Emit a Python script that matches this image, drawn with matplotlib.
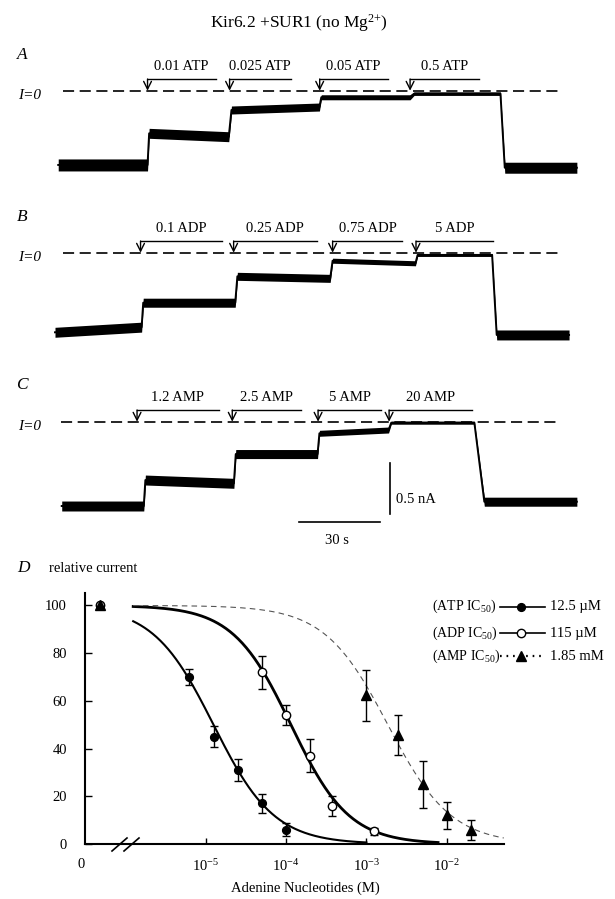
import numpy as np
import matplotlib
matplotlib.use('Agg')
import matplotlib.pyplot as plt
from matplotlib.lines import Line2D

plt.rcParams['font.family'] = ['Liberation Serif', 'DejaVu Serif']
plt.rcParams['mathtext.fontset'] = 'custom'
plt.rcParams['mathtext.rm'] = 'Liberation Serif'
plt.rcParams['mathtext.it'] = 'Liberation Serif:italic'
plt.rcParams['lines.scale_dashes'] = False

# ---------------- data ----------------
# current traces: segment (start, end) times in s, current (start, end) in nA, noise band in nA
a_seg_t = [(1.2, 34.4), (35.0, 64.6), (65.6, 98.3), (99.0, 132.0), (133.5, 165.6), (167.2, 194.0)]
a_seg_i = [(-0.723, -0.723), (-0.415, -0.448), (-0.188, -0.159), (-0.064, -0.064), (-0.029, -0.029), (-0.75, -0.75)]
a_noise = [0.117, 0.097, 0.078, 0.049, 0.034, 0.107]
a_on = [34.4, 64.9, 98.4, 132.0]
a_off = [59.7, 87.6, 123.7, 157.8]
a_labels = ['0.01 ATP', '0.025 ATP', '0.05 ATP', '0.5 ATP']
a_zero_span = (3.0, 188.1)

b_seg_t = [(0.0, 32.2), (32.8, 67.0), (67.8, 102.3), (103.2, 134.0), (134.8, 162.5), (164.2, 191.1)]
b_seg_i = [(-0.775, -0.725), (-0.487, -0.487), (-0.23, -0.25), (-0.078, -0.103), (-0.022, -0.022), (-0.801, -0.801)]
b_noise = [0.097, 0.088, 0.078, 0.049, 0.029, 0.097]
b_on = [31.8, 66.4, 103.2, 134.2]
b_off = [62.0, 97.4, 129.1, 162.9]
b_labels = ['0.1 ADP', '0.25 ADP', '0.75 ADP', '5 ADP']
b_zero_span = (3.0, 188.1)

c_seg_t = [(2.5, 33.0), (33.6, 66.5), (67.2, 97.6), (98.3, 124.0), (125.0, 155.9), (159.6, 194.0)]
c_seg_i = [(-0.821, -0.821), (-0.568, -0.600), (-0.315, -0.315), (-0.113, -0.081), (-0.010, -0.010), (-0.779, -0.779)]
c_noise = [0.097, 0.097, 0.088, 0.058, 0.029, 0.088]
c_on = [30.5, 65.9, 97.8, 124.2]
c_off = [60.8, 91.5, 121.2, 154.9]
c_labels = ['1.2 AMP', '2.5 AMP', '5 AMP', '20 AMP']
c_zero_span = (2.2, 187.4)

scale_t = 30     # s
scale_i = 0.5    # nA

# dose-response (concentration in M, relative current in %)
atp_conc = [6.25e-6, 1.25e-5, 2.5e-5, 5e-5, 1e-4]
atp_rel = [70, 45, 31, 17, 6]
atp_err = [3.5, 4.4, 4.5, 4.0, 2.6]
adp_conc = [5e-5, 1e-4, 2e-4, 3.75e-4, 1.25e-3]
adp_rel = [72, 54, 37, 16, 5.3]
adp_err = [7.0, 4.2, 7.0, 4.2, 1.6]
amp_conc = [1e-3, 2.5e-3, 5e-3, 1e-2, 2e-2]
amp_rel = [62.4, 45.6, 25, 12, 6]
amp_err = [10.7, 8.4, 9.8, 5.7, 4.2]
zero_rel = [100, 100, 100]          # control, no nucleotide

ic50 = [12.5e-6, 115e-6, 1.85e-3]
hill = [1.15, 1.2, 1.1]
fit_from = [1.25e-6, 1.25e-6, 1.25e-6]
fit_to = [1e-3, 7.8e-3, 5.13e-2]
legend_names = ['(ATP IC$_{50}$)', '(ADP IC$_{50}$)', '(AMP IC$_{50}$)']
legend_vals = ['12.5 \u00b5M', '115 \u00b5M', '1.85 mM']

# ---------------- layout ----------------
W, H = 615, 899
fig = plt.figure(figsize=(W / 100, H / 100), dpi=100)

def fx(x):
    return x / W

def fy(y):
    return 1 - y / H

PX_S = 2.69     # px per second
PX_NA = 102.7   # px per nA
X0 = 55


def trace_axes(y_zero, top, bot):
    ax = fig.add_axes([0, fy(bot), 1, (bot - top) / H])
    ax.set_xlim(-X0 / PX_S, (W - X0) / PX_S)
    ax.set_ylim((y_zero - bot) / PX_NA, (y_zero - top) / PX_NA)
    ax.axis('off')
    return ax


def draw_trace(ax, seg_t, seg_i, noise, on, off, labels, zero_span, br_h, lab_h):
    t, lev, w = [], [], []
    for (t0, t1), (i0, i1), n in zip(seg_t, seg_i, noise):
        t += [t0, t1]
        lev += [i0, i1]
        w += [n, n]
    t, lev, w = np.array(t), np.array(lev), np.array(w)
    ax.fill_between(t, lev - w / 2, lev + w / 2, color='black', lw=0)
    ax.plot(t, lev, color='black', lw=1.4)
    ax.plot(zero_span, [0, 0], color='black', lw=1.2, ls=(0, (8, 4)))
    for t_on, t_off, lab in zip(on, off, labels):
        ax.plot([t_on, t_off], [br_h, br_h], color='black', lw=1)
        ax.annotate('', xy=(t_on, 0), xytext=(t_on, br_h),
                    arrowprops=dict(arrowstyle='->', lw=1, color='black',
                                    shrinkA=0, shrinkB=0, mutation_scale=14))
        ax.text((t_on + t_off) / 2, lab_h, lab, ha='center', va='center', fontsize=10.5)


fig.text(fx(299), fy(23), 'Kir6.2 +SUR1 (no Mg$^{2{+}}$)', ha='center', va='center', fontsize=12.5)

panels = [
    ('A', 55, 90.7, 40, 185, a_seg_t, a_seg_i, a_noise, a_on, a_off, a_labels, a_zero_span),
    ('B', 217, 252.7, 200, 350, b_seg_t, b_seg_i, b_noise, b_on, b_off, b_labels, b_zero_span),
    ('C', 385, 421.7, 370, 550, c_seg_t, c_seg_i, c_noise, c_on, c_off, c_labels, c_zero_span),
]
for letter, ly, yz, top, bot, st, si, nz, on, off, labs, zs in panels:
    ax = trace_axes(yz, top, bot)
    draw_trace(ax, st, si, nz, on, off, labs, zs, 0.114, 0.240)
    fig.text(fx(22), fy(ly), letter, ha='center', va='center', fontsize=12.5, style='italic')
    fig.text(fx(29.5), fy(yz + 5), 'I=0', ha='center', va='center', fontsize=11, style='italic')
    if letter == 'C':
        axc = ax

# scale bars on panel C
sb_t, sb_i = 124.5, -0.399
axc.plot([sb_t, sb_t], [sb_i, sb_i - scale_i], color='black', lw=1.2)
axc.text(sb_t + 2.2, sb_i - 0.72 * scale_i, '%g nA' % scale_i, ha='left', va='center', fontsize=10.5)
hb_t, hb_i = 90.8, -0.974
axc.plot([hb_t, hb_t + scale_t], [hb_i, hb_i], color='black', lw=1.2)
fig.text(fx(336.6), fy(540), '%d s' % scale_t, ha='center', va='center', fontsize=10.5)

# ---------------- panel D ----------------
axd = fig.add_axes([fx(85), fy(844), 419 / W, (844 - 593.3) / H])
axd.set_xscale('log')
axd.set_xlim(10 ** -6.503, 10 ** -1.287)
axd.set_ylim(0, 105.1)
for s in ['top', 'right']:
    axd.spines[s].set_visible(False)
for s in ['left', 'bottom']:
    axd.spines[s].set_linewidth(1.5)

styles = [
    dict(marker='o', mfc='black', mec='black', ms=5.6),
    dict(marker='o', mfc='white', mec='black', ms=6.0, mew=1.0),
    dict(marker='^', mfc='black', mec='black', ms=6.5),
]
fit_styles = [
    dict(color='black', lw=1.5, ls='-'),
    dict(color='black', lw=2.0, ls='-'),
    dict(color='#555555', lw=0.8, ls=(0, (4, 3))),
]

for k in range(3):
    conc = np.logspace(np.log10(fit_from[k]), np.log10(fit_to[k]), 300)
    rel = 100.0 / (1.0 + (conc / ic50[k]) ** hill[k])
    axd.plot(conc, rel, zorder=2, **fit_styles[k])

for k, (c, r, e) in enumerate([(atp_conc, atp_rel, atp_err),
                               (adp_conc, adp_rel, adp_err),
                               (amp_conc, amp_rel, amp_err)]):
    axd.errorbar(c, r, yerr=e, fmt='none', ecolor='black', elinewidth=1,
                 capsize=2.7, capthick=1, zorder=3)
    axd.plot(c, r, ls='none', zorder=4, **styles[k])

# control points (no nucleotide) drawn left of the axis break
ZERO_POS = 10 ** -6.316
for k in range(3):
    axd.plot([ZERO_POS], [zero_rel[k]], ls='none', zorder=4, **styles[k])

axd.set_yticks([0, 20, 40, 60, 80, 100])
axd.tick_params(axis='y', direction='in', length=5, width=1, pad=13, labelsize=10.5)
axd.set_xticks([1e-5, 1e-4, 1e-3, 1e-2])
axd.set_xticklabels(['$10^{-5}$', '$10^{-4}$', '$10^{-3}$', '$10^{-2}$'])
axd.minorticks_off()
axd.tick_params(axis='x', direction='in', length=4, width=1, pad=10, labelsize=10.5)
fig.text(fx(80.7), fy(865), '0', ha='center', va='center', fontsize=10.5)

# axis break marks
for x0 in (112, 124):
    fig.add_artist(Line2D([fx(x0), fx(x0 + 15)], [fy(851), fy(838)], color='black', lw=1.2))

fig.text(fx(305.5), fy(888), 'Adenine Nucleotides (M)', ha='center', va='center', fontsize=10.5)
fig.text(fx(23.6), fy(568), 'D', ha='center', va='center', fontsize=12.5, style='italic')
fig.text(fx(49), fy(568), 'relative current', ha='left', va='center', fontsize=10.5)

# legend
rows = [606.7, 633.3, 656]
leg_ls = ['-', '-', (0, (1.2, 3.5))]
leg_lw = [1.2, 1.2, 1.6]
for k in range(3):
    y = rows[k]
    fig.text(fx(431.7), fy(y), legend_names[k], ha='left', va='center', fontsize=10)
    fig.add_artist(Line2D([fx(500), fx(545)], [fy(y), fy(y)], color='black',
                          lw=leg_lw[k], ls=leg_ls[k]))
    fig.add_artist(Line2D([fx(521)], [fy(y)], ls='none', **styles[k]))
    fig.text(fx(550), fy(y), legend_vals[k], ha='left', va='center', fontsize=10.5)

fig.savefig('out.png', dpi=100)
